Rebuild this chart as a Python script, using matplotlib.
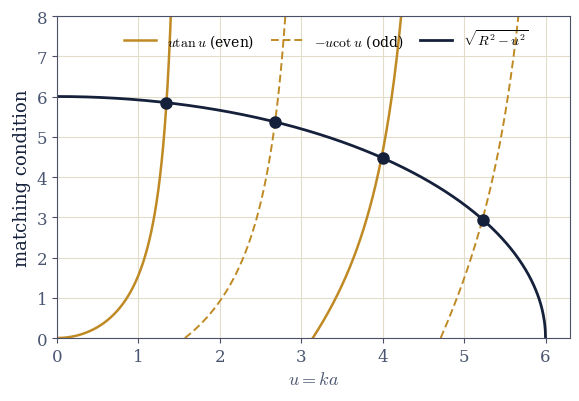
import matplotlib
matplotlib.use('Agg')
import matplotlib.pyplot as plt
import numpy as np

plt.rcParams['font.family'] = 'DejaVu Serif'
plt.rcParams['mathtext.fontset'] = 'cm'

# Data
R = 6.0
xLimits = [0, 6.3]
yLimits = [0, 8]
rootsU = [1.345, 2.68, 4.00, 5.23]
rootsV = [5.84, 5.37, 4.47, 2.94]

gold = '#bf8a24'
navy = '#15203b'
ink = '#4a5570'
gridColor = '#e2ddcb'

fig = plt.figure(figsize=(5.79, 4.02), dpi=100)
ax = fig.add_axes([0.0984, 0.1567, 0.886, 0.801])

eps = 1e-4
# even branches: u tan u
for lo, hi in [(0, np.pi / 2), (np.pi, 3 * np.pi / 2)]:
    u = np.linspace(lo, hi - eps, 2000)
    v = u * np.tan(u)
    m = v <= 8.5
    ax.plot(u[m], v[m], color=gold, lw=1.8,
            label=r'$u\tan u$ (even)' if lo == 0 else None)
# odd branches: -u cot u
for lo, hi in [(np.pi / 2, np.pi), (3 * np.pi / 2, 2 * np.pi)]:
    u = np.linspace(lo, hi - eps, 2000)
    v = -u / np.tan(u)
    m = v <= 8.5
    ax.plot(u[m], v[m], color=gold, lw=1.4, ls=(0, (4, 2)),
            label=r'$-u\cot u$ (odd)' if lo == np.pi / 2 else None)

u = np.linspace(0, R, 2000)
ax.plot(u, np.sqrt(R**2 - u**2), color=navy, lw=2.0, label=r'$\sqrt{R^2-u^2}$')
ax.plot(rootsU, rootsV, 'o', color=navy, ms=8, zorder=5)

ax.set_xlim(*xLimits)
ax.set_ylim(*yLimits)
ax.set_xlabel(r'$u = ka$', fontsize=13, color=ink)
ax.set_ylabel('matching condition', fontsize=13, color=navy)
ax.grid(True, color=gridColor, lw=0.8)
ax.set_axisbelow(True)
for s in ax.spines.values():
    s.set_color('#4a5068')
ax.tick_params(colors='#4a5068', labelcolor=ink, labelsize=12)

ax.legend(loc='upper center', ncol=3, frameon=False, fontsize=10,
          bbox_to_anchor=(0.525, 1.0), handlelength=2.3, columnspacing=1.2)

fig.savefig('out.png', dpi=100)
